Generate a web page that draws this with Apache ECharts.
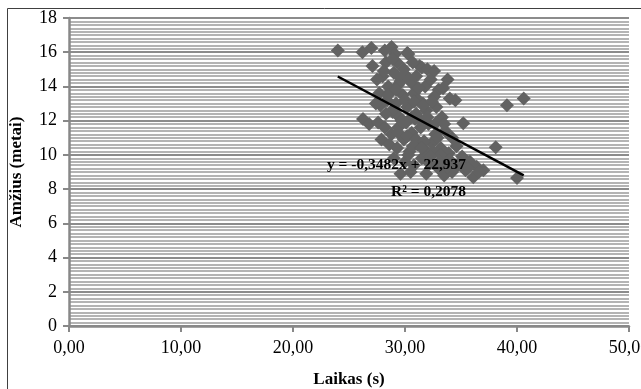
<!DOCTYPE html>
<html>
<head>
<meta charset="utf-8">
<script src="https://cdn.jsdelivr.net/npm/echarts@6/dist/echarts.min.js"></script>
<style>
  html, body { margin: 0; padding: 0; background: #fff; }
  #chart { width: 641px; height: 389px; }
</style>
</head>
<body>
<div id="chart"></div>
<script>
// laikas (s) / amžius (metai) pairs
const laikas = [
  24.0, 26.2, 27.0, 28.2, 28.8, 30.3, 27.1, 29.3, 31.3, 31.5, 30.2, 28.0, 27.5,
  28.5, 29.0, 29.6, 30.0, 30.6, 31.0, 31.8, 32.3, 33.0, 33.4, 33.8, 34.5, 34.0,
  32.6, 31.6, 30.8, 29.8, 29.2, 28.4, 27.8, 28.9, 29.5, 30.2, 31.0, 31.9, 32.8,
  33.3, 26.25, 26.8, 27.6, 28.2, 28.8, 29.4, 30.1, 30.6, 31.4, 32.1, 32.7, 33.6,
  34.2, 27.9, 28.6, 29.3, 29.9, 30.4, 31.1, 31.8, 32.4, 33.2, 33.9, 34.6, 35.1,
  35.8, 36.4, 36.1, 35.4, 34.7, 33.8, 33.0, 32.2, 31.5, 30.8, 30.0, 29.6, 29.0,
  30.5, 31.9, 33.5, 34.2, 37.0, 35.2, 38.1, 39.1, 40.6, 40.0, 29.1, 29.9, 30.7,
  28.3, 32.0, 29.7, 30.9, 28.7, 27.4, 31.2, 32.9, 30.3, 29.4,
  28.1, 28.9, 29.6, 30.4, 31.2, 27.7, 28.5, 29.2, 30.0, 30.8, 31.6, 32.4,
  28.3, 29.0, 29.8, 30.6, 31.3, 32.0, 32.8, 33.5, 29.4, 30.2, 31.0, 31.7,
  32.5, 33.2, 34.0, 30.7, 31.5, 32.3, 33.1, 33.8, 34.9, 35.6, 36.6, 32.6
];
const amzius = [
  16.1, 16.0, 16.25, 16.1, 16.3, 15.9, 15.2, 15.4, 15.2, 15.1, 15.95, 14.6, 14.4,
  14.0, 14.8, 14.3, 14.7, 14.2, 14.6, 14.0, 14.4, 13.8, 13.9, 14.4, 13.2, 13.3,
  13.4, 13.0, 13.6, 13.5, 13.0, 13.2, 12.9, 12.5, 12.2, 12.8, 12.4, 12.6, 12.8,
  12.2, 12.1, 11.8, 11.9, 11.6, 11.2, 11.6, 11.9, 11.3, 11.6, 11.8, 11.2, 11.4,
  11.0, 10.9, 10.6, 10.4, 10.9, 10.2, 10.6, 10.3, 10.7, 10.4, 10.1, 10.5, 9.9,
  9.6, 9.3, 8.7, 9.1, 9.4, 9.6, 9.2, 9.5, 9.8, 9.4, 9.6, 8.9, 9.8,
  9.0, 8.9, 8.8, 9.0, 9.1, 11.85, 10.45, 12.9, 13.3, 8.65, 15.9, 15.0, 15.4,
  15.4, 15.0, 12.0, 12.1, 13.7, 13.0, 13.2, 11.0, 10.0, 14.1,
  14.9, 15.6, 14.5, 14.4, 13.9, 13.6, 13.5, 13.8, 13.2, 13.1, 12.9, 13.1,
  12.4, 12.7, 12.0, 12.2, 12.1, 12.2, 11.9, 11.8, 11.3, 11.1, 10.9, 10.8,
  10.2, 10.0, 9.7, 10.5, 10.4, 9.9, 9.6, 9.3, 9.5, 9.2, 9.0, 14.9
];

// Excel trendline coefficients
const slope = -0.3482;
const intercept = 22.937;
const trendText = ['y = -0,3482x + 22,937', 'R² = 0,2078'];

const xMin = 0, xMax = 50, xStep = 10;
const yMin = 0, yMax = 18, yStep = 2;

const points = laikas.map((x, i) => [x, amzius[i]]);
const x0 = Math.min(...laikas);
const x1 = Math.max(...laikas);
const trend = [[x0, slope * x0 + intercept], [x1, slope * x1 + intercept]];

const chart = echarts.init(document.getElementById('chart'));
const serif = 'Liberation Serif';

chart.setOption({
  animation: false,
  grid: { left: 69, right: 12, top: 18, bottom: 63, outerBoundsMode: 'none', containLabel: false },
  graphic: [
    {
      type: 'rect',
      shape: { x: 7.5, y: 8.5, width: 800, height: 600 },
      style: { fill: 'none', stroke: '#404040', lineWidth: 1 },
      silent: true,
      z: -10
    },
    {
      type: 'text',
      right: 641 - 466,
      top: 157,
      style: { text: trendText[0], font: 'bold 15.5px "Liberation Serif"', fill: '#000', align: 'right' },
      z: 100
    },
    {
      type: 'text',
      right: 641 - 466,
      top: 184,
      style: { text: trendText[1], font: 'bold 15.5px "Liberation Serif"', fill: '#000', align: 'right' },
      z: 100
    }
  ],
  xAxis: {
    type: 'value',
    min: xMin,
    max: xMax,
    interval: xStep,
    name: 'Laikas (s)',
    nameLocation: 'middle',
    nameGap: 45,
    nameTextStyle: { fontFamily: serif, fontWeight: 'bold', fontSize: 17, color: '#000' },
    axisLine: { onZero: false, lineStyle: { color: '#888', width: 2.5 } },
    axisTick: { show: true, length: 6, lineStyle: { color: '#888', width: 2 } },
    axisLabel: {
      fontFamily: serif, fontSize: 18, color: '#000', margin: 13,
      formatter: v => v.toFixed(2).replace('.', ',')
    },
    splitLine: { show: false }
  },
  yAxis: {
    type: 'value',
    min: yMin,
    max: yMax,
    interval: yStep,
    name: 'Amžius (metai)',
    nameLocation: 'middle',
    nameGap: 44,
    nameRotate: 90,
    nameTextStyle: { fontFamily: serif, fontWeight: 'bold', fontSize: 17, color: '#000' },
    axisLine: { show: true, lineStyle: { color: '#888', width: 2.5 } },
    axisTick: { show: true, length: 6, lineStyle: { color: '#888', width: 2 } },
    axisLabel: { fontFamily: serif, fontSize: 18, color: '#000', margin: 12 },
    splitLine: { show: true, lineStyle: { color: '#8c8c8c', width: 2 } },
    minorTick: { show: false, splitNumber: 10 },
    minorSplitLine: { show: true, lineStyle: { color: '#b4b4b4', width: 1.8 } }
  },
  series: [
    {
      type: 'scatter',
      data: points,
      symbol: 'diamond',
      symbolSize: 14,
      itemStyle: { color: '#626262', opacity: 1 },
      z: 3
    },
    {
      type: 'line',
      data: trend,
      symbol: 'none',
      lineStyle: { color: '#000', width: 2.5 },
      z: 4
    }
  ]
});
</script>
</body>
</html>
